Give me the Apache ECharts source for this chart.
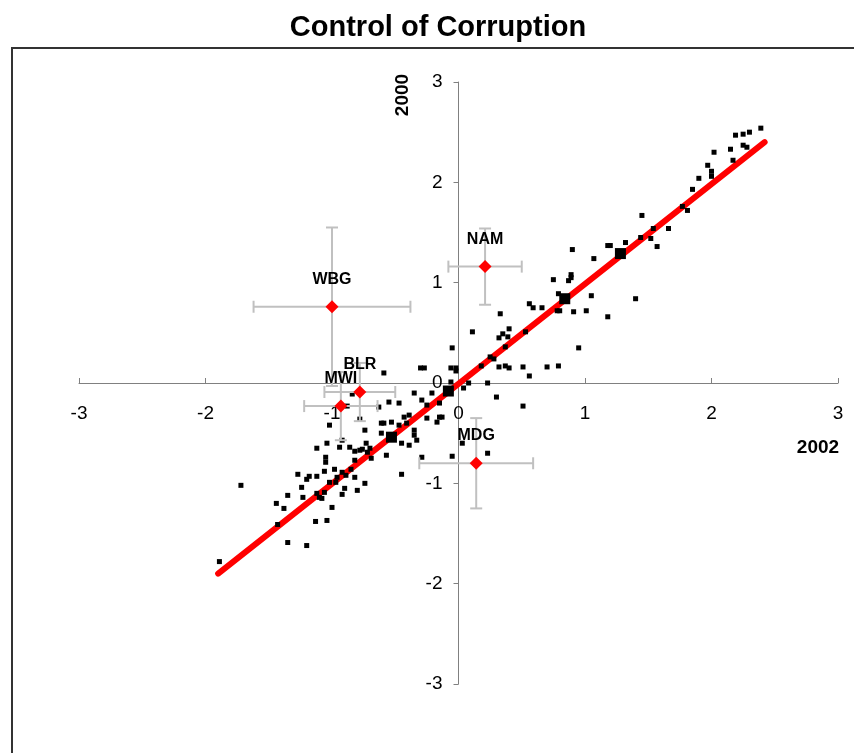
<!DOCTYPE html>
<html>
<head>
<meta charset="utf-8">
<script src="https://cdn.jsdelivr.net/npm/echarts@6/dist/echarts.min.js"></script>
<style>
html,body{margin:0;padding:0;background:#fff;}
#chart{width:854px;height:753px;}
</style>
</head>
<body>
<div id="chart"></div>
<script>
// ---- data (x = 2002 estimate, y = 2000 estimate) ----
const countryX = [-1.89,-1.72,-1.44,-1.38,-1.43,-1.35,-1.35,-1.20,-1.27,-1.24,-1.23,-1.18,-1.20,-1.12,-1.13,-1.04,-1.12,-1.10,-1.08,-1.06,-1.06,-1.05,-1.05,-1.12,-1.04,-1.02,-0.98,-0.96,-0.97,-1.02,-1.00,-0.92,-0.90,-0.92,-0.89,-0.85,-0.82,-0.82,-0.80,-0.74,-0.94,-0.92,-0.86,-0.82,-0.78,-0.76,-0.73,-0.70,-0.72,-0.69,-0.57,-0.74,-0.78,-0.88,-0.84,-0.59,-0.63,-0.61,-0.59,-0.61,-0.53,-0.55,-0.47,-0.45,-0.39,-0.45,-0.47,-0.41,-0.43,-0.39,-0.35,-0.35,-0.35,-0.33,-0.29,-0.25,-0.29,-0.25,-0.17,-0.15,-0.13,-0.21,-0.15,-0.30,-0.27,-0.06,-0.02,-0.05,-0.05,0.03,0.23,0.04,-0.06,0.08,0.23,0.30,0.51,0.18,0.25,0.28,-0.02,0.32,0.37,0.40,0.51,0.56,0.70,0.79,0.11,0.33,0.40,0.35,0.32,0.39,0.53,0.37,0.95,0.56,0.59,0.66,0.78,0.80,0.91,1.01,1.18,0.75,0.89,0.89,0.87,0.79,1.05,1.40,0.90,1.07,1.18,1.20,1.32,1.45,1.44,1.52,1.54,1.57,1.66,1.77,1.81,1.85,1.90,1.97,2.00,2.00,2.02,2.15,2.17,2.19,2.25,2.25,2.28,2.30,2.39];
const countryY = [-1.78,-1.02,-1.20,-1.25,-1.41,-1.12,-1.59,-1.62,-0.91,-1.04,-1.14,-0.93,-0.96,-0.93,-1.38,-1.37,-1.10,-1.14,-1.15,-1.09,-0.88,-0.74,-0.79,-0.65,-0.60,-0.42,-0.86,-0.94,-0.99,-0.99,-1.24,-0.89,-1.05,-1.11,-0.92,-0.86,-0.77,-0.94,-1.07,-1.00,-0.64,-0.57,-0.64,-0.68,-0.67,-0.66,-0.60,-0.65,-0.69,-0.75,-0.72,-0.47,-0.36,-0.23,-0.11,0.10,-0.24,-0.40,-0.40,-0.50,-0.39,-0.19,-0.20,-0.60,-0.62,-0.91,-0.42,-0.40,-0.34,-0.32,-0.10,-0.47,-0.52,-0.57,-0.17,-0.22,-0.74,-0.35,-0.39,-0.34,-0.34,-0.10,-0.20,0.15,0.15,0.15,0.15,0.35,-0.73,-0.60,-0.70,-0.05,0.01,0.00,0.00,-0.14,-0.23,0.17,0.26,0.24,0.12,0.16,0.17,0.15,0.16,0.07,0.16,0.17,0.51,0.69,0.54,0.49,0.45,0.46,0.51,0.36,0.35,0.79,0.75,0.75,0.72,0.72,0.71,0.72,0.66,1.03,1.08,1.05,1.02,0.89,0.87,0.84,1.33,1.24,1.37,1.37,1.40,1.67,1.45,1.44,1.54,1.36,1.54,1.76,1.72,1.93,2.04,2.17,2.11,2.06,2.30,2.33,2.22,2.47,2.48,2.37,2.35,2.50,2.54];

// group means (large squares)
const meanX = [-0.53, -0.08, 0.84, 1.28];
const meanY = [-0.54, -0.08, 0.84, 1.29];

// fitted line end points
const fitX = [-1.90, 2.42];
const fitY = [-1.90, 2.40];

// highlighted countries with margins of error
const hlCodes = ['WBG', 'NAM', 'BLR', 'MWI', 'MDG'];
const hlX    = [-1.00, 0.21, -0.78, -0.93, 0.14];
const hlY    = [0.76, 1.16, -0.09, -0.23, -0.80];
const hlErrX = [0.62, 0.29, 0.28, 0.29, 0.45];
const hlErrY = [0.79, 0.38, 0.29, 0.34, 0.45];

const axisTicks = [-3, -2, -1, 0, 1, 2, 3];

// ---- chart ----
const FONT = '"Liberation Sans", Arial, sans-serif';
const chart = echarts.init(document.getElementById('chart'), null, {renderer: 'canvas'});

const pts = countryX.map((x, i) => [x, countryY[i]]);
const means = meanX.map((x, i) => [x, meanY[i]]);
const fit = fitX.map((x, i) => [x, fitY[i]]);
const hl = hlX.map((x, i) => ({name: hlCodes[i], value: [x, hlY[i], hlErrX[i], hlErrY[i]]}));

function errRender(params, api) {
  const x = api.value(0), y = api.value(1), ex = api.value(2), ey = api.value(3);
  const l = api.coord([x - ex, y]), r = api.coord([x + ex, y]);
  const t = api.coord([x, y + ey]), b = api.coord([x, y - ey]);
  const cap = 6;
  const st = {stroke: '#c0c0c0', lineWidth: 2};
  const line = (x1, y1, x2, y2) => ({type: 'line', shape: {x1, y1, x2, y2}, style: st});
  return {
    type: 'group',
    children: [
      line(l[0], l[1], r[0], r[1]),
      line(l[0], l[1] - cap, l[0], l[1] + cap),
      line(r[0], r[1] - cap, r[0], r[1] + cap),
      line(t[0], t[1], b[0], b[1]),
      line(t[0] - cap, t[1], t[0] + cap, t[1]),
      line(b[0] - cap, b[1], b[0] + cap, b[1])
    ]
  };
}

// grid geometry: axes cross at the origin, placed via axis offset
const GRID = {left: 79, right: 16, top: 82, bottom: 69};
const gridW = 854 - GRID.left - GRID.right;
const gridH = 753 - GRID.top - GRID.bottom;

const axisCommon = {
  type: 'value', min: -3, max: 3, interval: 1,
  splitLine: {show: false},
  axisLine: {show: true, onZero: false, lineStyle: {color: '#808080', width: 1}},
};

chart.setOption({
  animation: false,
  backgroundColor: '#fff',
  textStyle: {fontFamily: FONT},
  grid: Object.assign({containLabel: false}, GRID),
  xAxis: Object.assign({}, axisCommon, {
    position: 'bottom',
    offset: -gridH / 2,
    axisTick: {show: true, inside: true, length: 5, lineStyle: {color: '#808080'}},
    axisLabel: {margin: 21, fontSize: 19, color: '#000', fontFamily: FONT,
      formatter: v => axisTicks.includes(v) ? String(v) : ''}
  }),
  yAxis: Object.assign({}, axisCommon, {
    position: 'left',
    offset: -gridW / 2,
    axisTick: {show: true, inside: false, length: 5, lineStyle: {color: '#808080'}},
    axisLabel: {margin: 16, fontSize: 19, color: '#000', fontFamily: FONT,
      formatter: v => axisTicks.includes(v) ? String(v) : ''}
  }),
  graphic: [
    {type: 'rect', shape: {x: 12, y: 48, width: 900, height: 800}, style: {fill: 'none', stroke: '#333', lineWidth: 2}, z: -10, silent: true},
    {type: 'text', x: 438, y: 28, style: {text: 'Control of Corruption', font: 'bold 29px ' + FONT, fill: '#000', align: 'center', verticalAlign: 'middle'}},
    {type: 'text', x: 818, y: 448, style: {text: '2002', font: 'bold 19px ' + FONT, fill: '#000', align: 'center', verticalAlign: 'middle'}},
    {type: 'text', x: 403, y: 95, rotation: Math.PI / 2, style: {text: '2000', font: 'bold 19px ' + FONT, fill: '#000', align: 'center', verticalAlign: 'middle'}}
  ],
  series: [
    {type: 'line', data: fit, symbol: 'none', lineStyle: {color: '#ff0000', width: 6, cap: 'round'}, z: 2},
    {type: 'scatter', data: pts, symbol: 'rect', symbolSize: 5, itemStyle: {color: '#000', opacity: 1}, z: 3},
    {type: 'scatter', data: means, symbol: 'rect', symbolSize: 11, itemStyle: {color: '#000', opacity: 1}, z: 4},
    {type: 'custom', data: hl, renderItem: errRender, encode: {x: 0, y: 1}, z: 5},
    {type: 'scatter', data: hl, symbol: 'diamond', symbolSize: 13, itemStyle: {color: '#ff0000', opacity: 1}, z: 6,
      label: {show: true, position: 'top', distance: 13, formatter: p => p.name,
        fontSize: 16, fontWeight: 'bold', color: '#000', fontFamily: FONT}}
  ]
});
</script>
</body>
</html>
